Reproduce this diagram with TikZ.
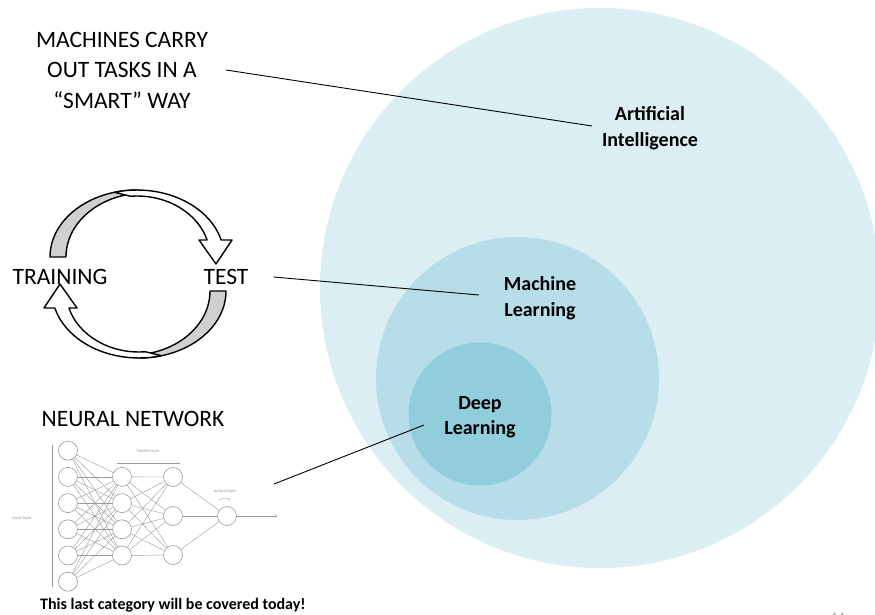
\documentclass[tikz,border=0pt]{standalone}
\usepackage{fontspec}
\setmainfont{Carlito}
\definecolor{aiblue}{HTML}{DAEEF3}
\definecolor{mlblue}{HTML}{B7DDE8}
\definecolor{dlblue}{HTML}{92CDDC}
\definecolor{bandgray}{HTML}{D0D0D0}
\definecolor{netgray}{HTML}{9A9A9A}

\begin{document}
\begin{tikzpicture}[x=1pt,y=-1pt,
  plain/.style={font=\fontsize{23.5}{30.5}\selectfont,align=center,inner sep=0pt},
  field/.style={font=\fontsize{20}{25.5}\selectfont\bfseries,align=center,inner sep=0pt},
  pointer/.style={draw=black,line width=0.9pt},
  band/.style={draw=black,line width=1.4pt,line join=round},
  neuron/.style={circle,draw=netgray,line width=0.6pt,minimum size=19pt,inner sep=0pt,fill=white},
  link/.style={draw=netgray,line width=0.4pt},
  tag/.style={font=\fontsize{4.5}{5}\selectfont,text=netgray,inner sep=0pt}]
  \useasboundingbox (0,0) rectangle (875,615);
  \begin{scope}
    \clip (0,0) rectangle (875,615);
    \node[circle,fill=aiblue,minimum size=560pt,inner sep=0pt] (ai) at (600,288) {};
    \node[text=gray!70,font=\fontsize{13}{13}\selectfont] (page) at (838,617) {14};
  \end{scope}
  \node[circle,fill=mlblue,minimum size=283pt,inner sep=0pt] (ml) at (517.5,378.5) {};
  \node[circle,fill=dlblue,minimum size=143pt,inner sep=0pt] (dl) at (480,414) {};

  \node[field] (ailabel) at (650,128) {Artificial\\Intelligence};
  \node[field] (mllabel) at (540,298) {Machine\\Learning};
  \node[field] (dllabel) at (480,417) {Deep\\Learning};

  \node[plain] (smart) at (122,70) {MACHINES CARRY\\OUT TASKS IN A\\“SMART” WAY};
  \node[plain] (training) at (60,277) {TRAINING};
  \node[plain] (test) at (226,277) {TEST};
  \node[plain] (neural) at (133,419) {NEURAL NETWORK};
  \node[font=\fontsize{16}{18}\selectfont\bfseries,anchor=west,inner sep=0pt] (today) at (40,605) {This last category will be covered today!};

  \coordinate (aiend) at (592,126);
  \coordinate (mlend) at (479,295);
  \coordinate (dlend) at (424,425);
  \coordinate (netstart) at (274,484);
  \draw[pointer] ([xshift=18]smart.east) -- (aiend);
  \draw[pointer] ([xshift=25]test.east) -- (mlend);
  \draw[pointer] (netstart) -- (dlend);

  \foreach \turn in {0,180}{
    \begin{scope}[rotate around={\turn:(138,274)}]
      \draw[band,fill=bandgray] (50,257) arc[start angle=180,end angle=270,x radius=87,y radius=67]
        -- (145,193) arc[start angle=270,end angle=180,x radius=79,y radius=64] -- cycle;
      \draw[band,fill=white] (114.5,192.3) arc[start angle=255,end angle=345.3,x radius=87,y radius=67]
        -- (232,240) -- (216,264) -- (199,240) -- (207.1,240)
        arc[start angle=343.8,end angle=265,x radius=73,y radius=61] -- cycle;
    \end{scope}
  }

  \foreach \i in {0,...,5}
    \node[neuron] (in\i) at (68,450.7+26.2*\i) {};
  \foreach \i in {1,...,4}
    \node[neuron] (ha\i) at (122,450.7+26.2*\i) {};
  \foreach \i/\y in {1/477,2/516,3/555}
    \node[neuron] (hb\i) at (173,\y) {};
  \node[neuron] (out) at (227,516) {};
  \foreach \i in {0,...,5}
    \foreach \j in {1,...,4}
      \draw[link] (in\i) -- (ha\j);
  \foreach \i in {1,...,4}
    \foreach \j in {1,2,3}
      \draw[link] (ha\i) -- (hb\j);
  \foreach \j in {1,2,3}
    \draw[link] (hb\j) -- (out);
  \coordinate (netout) at (277,516);
  \draw[link,->] (out) -- (netout);

  \coordinate (inbracetop) at (52,445);
  \coordinate (inbracebot) at (52,587);
  \draw[link] (inbracetop) -- (inbracebot);
  \node[tag] (intag) at (22,518) {input layer};
  \coordinate (hidbraceleft) at (117,463);
  \coordinate (hidbraceright) at (180,463);
  \draw[link] (hidbraceleft) -- (hidbraceright);
  \node[tag] (hidtag) at (148,451) {hidden layer};
  \node[tag] (outtag) at (225,491) {output layer};
  \draw[link] (219,500) arc[start angle=200,end angle=340,x radius=6,y radius=3];
\end{tikzpicture}
\end{document}
